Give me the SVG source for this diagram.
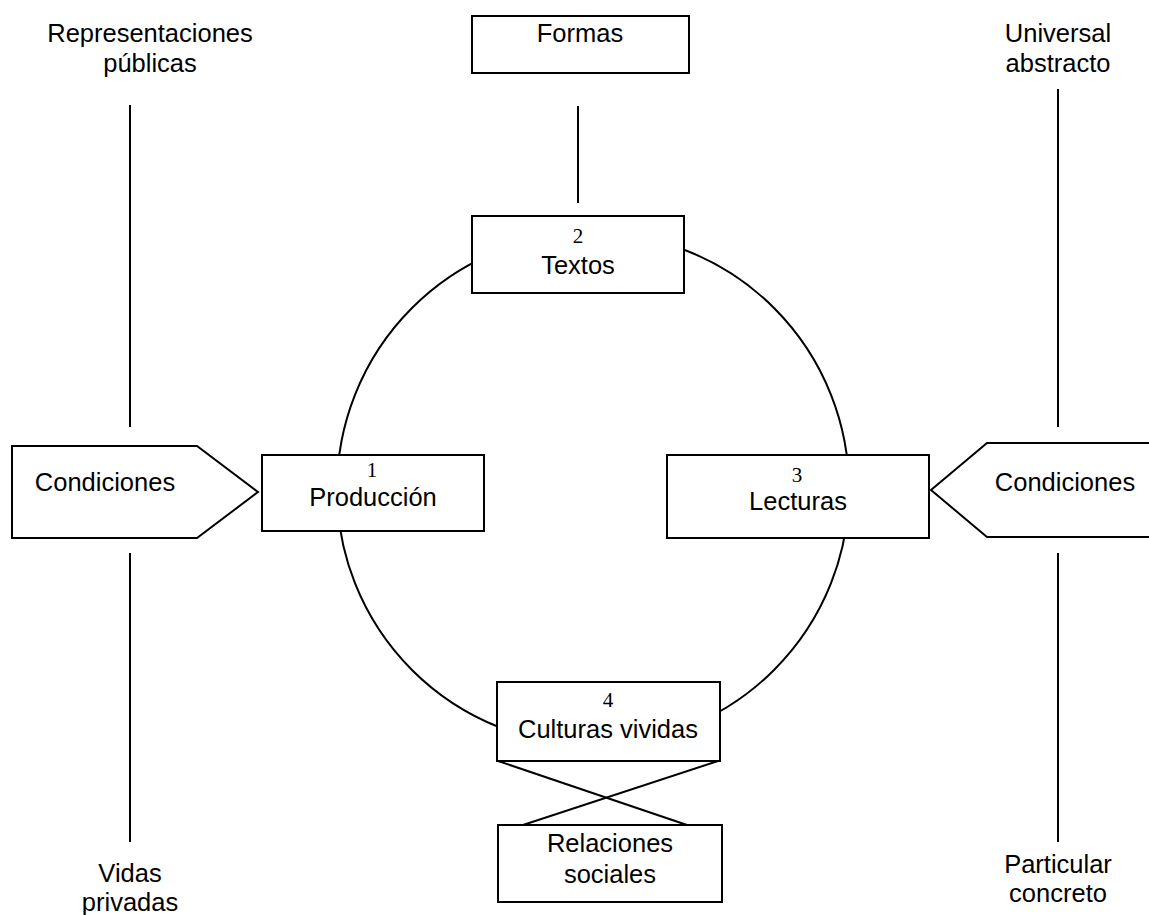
<svg xmlns="http://www.w3.org/2000/svg" width="1149" height="915" viewBox="0 0 1149 915">
<style>
.s{fill:none;stroke:#000;stroke-width:2}
.b{fill:#fff;stroke:#000;stroke-width:2}
.t{font-family:"Liberation Sans",Arial,sans-serif;font-size:25.5px;fill:#000;text-anchor:middle}
.n{font-family:"Liberation Serif","Times New Roman",serif;font-size:21px;fill:#000;text-anchor:middle}
</style>
<rect width="1149" height="915" fill="#fff"/>
<g id="connectors">
<circle class="s" cx="593" cy="489" r="256"/>
<line class="s" x1="578" y1="106" x2="578" y2="203"/>
<line class="s" x1="130" y1="105" x2="130" y2="427"/>
<line class="s" x1="130" y1="553" x2="130" y2="842"/>
<line class="s" x1="1058" y1="89" x2="1058" y2="427"/>
<line class="s" x1="1058" y1="553" x2="1058" y2="842"/>
<line class="s" x1="498" y1="761" x2="687" y2="825"/>
<line class="s" x1="718" y1="761" x2="523" y2="825"/>
</g>
<g id="rep-publicas"><text class="t" x="150" y="42">Representaciones</text><text class="t" x="150" y="72">públicas</text></g>
<g id="universal"><text class="t" x="1058" y="42">Universal</text><text class="t" x="1058" y="72">abstracto</text></g>
<g id="vidas"><text class="t" x="130" y="882">Vidas</text><text class="t" x="130" y="911">privadas</text></g>
<g id="particular"><text class="t" x="1058" y="873">Particular</text><text class="t" x="1058" y="902">concreto</text></g>
<g id="formas"><rect class="b" x="472" y="16" width="217" height="57"/><text class="t" x="580" y="42">Formas</text></g>
<g id="textos"><rect class="b" x="472" y="216" width="212" height="77"/><text class="n" x="578" y="243">2</text><text class="t" x="578" y="274">Textos</text></g>
<g id="produccion"><rect class="b" x="262" y="455" width="222" height="76"/><text class="n" x="372" y="477">1</text><text class="t" x="373" y="506">Producción</text></g>
<g id="lecturas"><rect class="b" x="667" y="455" width="262" height="83"/><text class="n" x="797" y="482">3</text><text class="t" x="798" y="510">Lecturas</text></g>
<g id="condiciones-left"><polygon class="b" points="12,446 197,446 258,492 197,538 12,538"/><text class="t" x="105" y="491">Condiciones</text></g>
<g id="condiciones-right"><polygon class="b" points="1160,443 987,443 931,490 987,537 1160,537"/><text class="t" x="1065" y="491">Condiciones</text></g>
<g id="culturas"><rect class="b" x="497" y="682" width="223" height="79"/><text class="n" x="608" y="707">4</text><text class="t" x="608" y="738">Culturas vividas</text></g>
<g id="relaciones"><rect class="b" x="498" y="825" width="224" height="77"/><text class="t" x="610" y="852">Relaciones</text><text class="t" x="610" y="883">sociales</text></g>
</svg>
